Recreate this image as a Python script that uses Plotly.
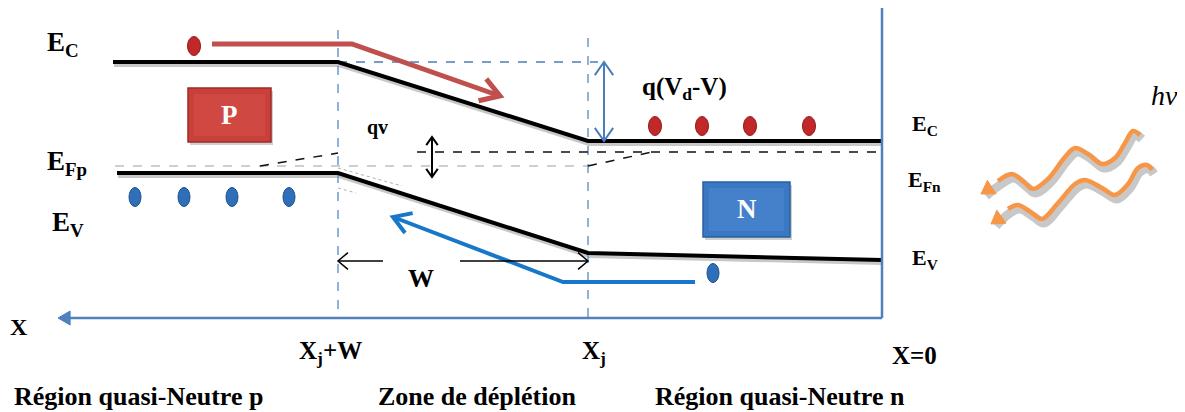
import math
import plotly.graph_objects as go

# ---------------- data (diagram coordinates, pixel-like frame) ----------------
# band edges: position nodes and energy levels
ec_x = [113, 338, 588, 882]
ec_y = [62, 62, 141, 141]
ev_x = [117, 338, 588, 882]
ev_y = [173, 173, 253, 260]
# quasi-Fermi levels
efp_gray_x = [115, 588]
efp_gray_y = [166, 166]
efp_dash_x = [260, 338]
efp_dash_y = [166, 153]
efn_dash_x = [417, 882]
efn_dash_y = [152, 152]
efn_rise_x = [588, 652]
efn_rise_y = [166, 152]
# junction boundaries
xj = 588
xjw = 338
# carriers
elec_x = [194, 655, 702, 750, 809]
elec_y = [46, 126, 126, 126, 126]
hole_x = [135, 184, 232, 289, 713]
hole_y = [197, 197, 197, 197, 273]
# carrier paths
e_path_x = [212, 352, 500]
e_path_y = [44, 44, 96]
h_path_x = [695, 563, 393]
h_path_y = [282, 282, 217]
# photon waves (from tail end to arrow tip)
wave1_x = [1140, 1133, 1125, 1115, 1102, 1088, 1075, 1065, 1048, 1033, 1025, 1012, 998, 984]
wave1_y = [135, 131, 143, 158, 164, 154, 148, 157, 179, 189, 183, 174, 181, 192]
wave2_x = [1152, 1147, 1138, 1128, 1115, 1102, 1085, 1075, 1058, 1042, 1032, 1018, 1008, 994]
wave2_y = [170, 165, 168, 184, 195, 188, 180, 184, 203, 219, 213, 205, 209, 222]

fig = go.Figure()

def line(x, y, color, width, dash=None, opacity=1.0, shape="linear"):
    fig.add_trace(go.Scatter(x=x, y=y, mode="lines", hoverinfo="skip",
                             line=dict(color=color, width=width, dash=dash, shape=shape),
                             opacity=opacity, showlegend=False))

def wings(tip, frm, length, ang_deg):
    dx, dy = frm[0] - tip[0], frm[1] - tip[1]
    d = math.hypot(dx, dy)
    ux, uy = dx / d, dy / d
    a = math.radians(ang_deg)
    pts = []
    for s in (1, -1):
        c, sn = math.cos(s * a), math.sin(s * a)
        pts.append((tip[0] + length * (ux * c - uy * sn), tip[1] + length * (ux * sn + uy * c)))
    return pts

def chevron(tip, frm, length, ang_deg, color, width):
    p = wings(tip, frm, length, ang_deg)
    line([p[0][0], tip[0], p[1][0]], [p[0][1], tip[1], p[1][1]], color, width)

def filled_head(tip, frm, length, ang_deg, color):
    p = wings(tip, frm, length, ang_deg)
    fig.add_trace(go.Scatter(x=[tip[0], p[0][0], p[1][0], tip[0]], y=[tip[1], p[0][1], p[1][1], tip[1]],
                             mode="lines", fill="toself", fillcolor=color, hoverinfo="skip",
                             line=dict(color=color, width=1), showlegend=False))

# shadows of band lines
line([x + 1 for x in ec_x], [y + 3 for y in ec_y], "#c8c8c8", 4)
line([x + 1 for x in ev_x], [y + 3 for y in ev_y], "#c8c8c8", 4)

# blue dashed guides
line([xjw, xjw], [30, 318], "#4a7ebb", 1.2, "dash")
line([xj, xj], [38, 318], "#4a7ebb", 1.2, "dash")
line([xjw, 598], [ec_y[0], ec_y[0]], "#4a7ebb", 1.5, "dash")

# Fermi levels
line(efp_gray_x, efp_gray_y, "#a0a0a0", 1.2, "dash")
line(efp_dash_x, efp_dash_y, "#111111", 1.5, "dash")
line(efn_dash_x, efn_dash_y, "#111111", 1.5, "dash")
line(efn_rise_x, efn_rise_y, "#111111", 1.5, "dash")
line([338, 402], [168, 186], "#b0b0b0", 1, "dot")
line([338, 356], [188, 193], "#b0b0b0", 1, "dot")

# band edges
line(ec_x, ec_y, "#000000", 4)
line(ev_x, ev_y, "#000000", 4)

# right boundary and X axis
line([882, 882], [8, 318], "#4f81bd", 2.5)
line([882, 66], [318, 318], "#4f81bd", 2.5)
filled_head((58, 318), (80, 318), 14, 30, "#4f81bd")

# electron path (red)
line(e_path_x, e_path_y, "#c0504d", 5)
chevron((e_path_x[-1], e_path_y[-1]), (e_path_x[-2], e_path_y[-2]), 22, 32, "#c0504d", 5)

# hole path (blue)
line(h_path_x, h_path_y, "#1877c9", 4)
chevron((h_path_x[-1], h_path_y[-1]), (h_path_x[-2], h_path_y[-2]), 20, 32, "#1877c9", 4)

# q(Vd-V) double arrow
line([604, 604], [ec_y[0], ec_y[-1]], "#4a7ebb", 2)
chevron((604, ec_y[0]), (604, ec_y[-1]), 16, 35, "#4a7ebb", 2)
chevron((604, ec_y[-1]), (604, ec_y[0]), 16, 35, "#4a7ebb", 2)

# qv double arrow
line([432, 432], [137, 177], "#000000", 2)
chevron((432, 137), (432, 177), 10, 35, "#000000", 2)
chevron((432, 177), (432, 137), 10, 35, "#000000", 2)

# W arrows
line([xjw, 383], [261, 261], "#000000", 1.5)
chevron((xjw, 261), (383, 261), 13, 40, "#000000", 1.5)
line([460, xj], [261, 261], "#000000", 1.5)
chevron((xj, 261), (460, 261), 13, 40, "#000000", 1.5)

# photon waves
for wx, wy in ((wave1_x, wave1_y), (wave2_x, wave2_y)):
    line([x + 2 for x in wx], [y + 4 for y in wy], "#c8c8c8", 9, shape="spline")
    line(wx[:-1], wy[:-1], "#f79646", 4.5, shape="spline")
    filled_head((wx[-1] - 3, wy[-1] + 2), (wx[-3], wy[-3]), 15, 32, "#f79646")

shapes = []
# P and N boxes
for (x0, y0, x1, y1, fill, edge, hi) in ((188, 88, 271, 142, "#c9403a", "#9c2b26", "#db5a52"),
                                          (703, 182, 790, 237, "#3a78c3", "#29609f", "#5a92d6")):
    shapes.append(dict(type="rect", xref="x", yref="y", x0=x0 + 2, y0=y0 + 3, x1=x1 + 2, y1=y1 + 3,
                       fillcolor="#cfcfcf", line=dict(width=0), layer="below"))
    shapes.append(dict(type="rect", xref="x", yref="y", x0=x0, y0=y0, x1=x1, y1=y1,
                       fillcolor=fill, line=dict(color=edge, width=1.5)))
    shapes.append(dict(type="rect", xref="x", yref="y", x0=x0 + 6, y0=y0 + 6, x1=x1 - 6, y1=y1 - 6,
                       fillcolor=hi, opacity=0.35, line=dict(width=0)))
# carriers as ellipses
for cx, cy in zip(elec_x, elec_y):
    shapes.append(dict(type="circle", xref="x", yref="y", x0=cx - 6.5, x1=cx + 6.5, y0=cy - 9.5, y1=cy + 9.5,
                       fillcolor="#c0282a", line=dict(color="#8e1c1c", width=1)))
for cx, cy in zip(hole_x, hole_y):
    shapes.append(dict(type="circle", xref="x", yref="y", x0=cx - 6, x1=cx + 6, y0=cy - 9.5, y1=cy + 9.5,
                       fillcolor="#2f6fba", line=dict(color="#1f4f8a", width=1)))

FONT = "serif"

def txt(x, y, s, size=20, color="#000000", bold=True, italic=False, xanchor="center"):
    t = s
    if italic:
        t = "<i>" + t + "</i>"
    if bold:
        t = "<b>" + t + "</b>"
    fig.add_annotation(x=x, y=y, xref="x", yref="y", text=t, showarrow=False,
                       xanchor=xanchor, yanchor="middle",
                       font=dict(family=FONT, size=size, color=color))

txt(45, 44, "E<sub>C</sub>", 27, xanchor="left")
txt(45, 163, "E<sub>Fp</sub>", 27, xanchor="left")
txt(50, 224, "E<sub>V</sub>", 27, xanchor="left")
txt(229, 115, "P", 27, "#ffffff")
txt(747, 209, "N", 27, "#ffffff")
txt(377, 127, "qv", 20)
txt(640, 88, "q(V<sub>d</sub>-V)", 25, xanchor="left")
txt(421, 278, "W", 26)
txt(910, 125, "E<sub>C</sub>", 22, xanchor="left")
txt(906, 181, "E<sub>Fn</sub>", 22, xanchor="left")
txt(910, 259, "E<sub>V</sub>", 22, xanchor="left")
txt(1164, 95, "hν", 28, bold=False, italic=True)
txt(19, 327, "X", 24)
txt(330, 352, "X<sub>j</sub>+W", 25)
txt(594, 352, "X<sub>j</sub>", 25)
txt(914, 355, "X=0", 25)
txt(138, 396, "Région quasi-Neutre p", 26)
txt(477, 396, "Zone de déplétion", 26)
txt(780, 396, "Région quasi-Neutre n", 26)

# the page places the plot 8 px from the top-left corner; shift the frame to compensate
fig.update_layout(
    width=1185, height=412,
    margin=dict(l=0, r=0, t=0, b=0),
    paper_bgcolor="white", plot_bgcolor="white",
    font=dict(family=FONT),
    xaxis=dict(range=[8, 1193], visible=False, fixedrange=True),
    yaxis=dict(range=[420, 8], visible=False, fixedrange=True),
    shapes=shapes,
    showlegend=False,
)

fig.write_html("out.html")
